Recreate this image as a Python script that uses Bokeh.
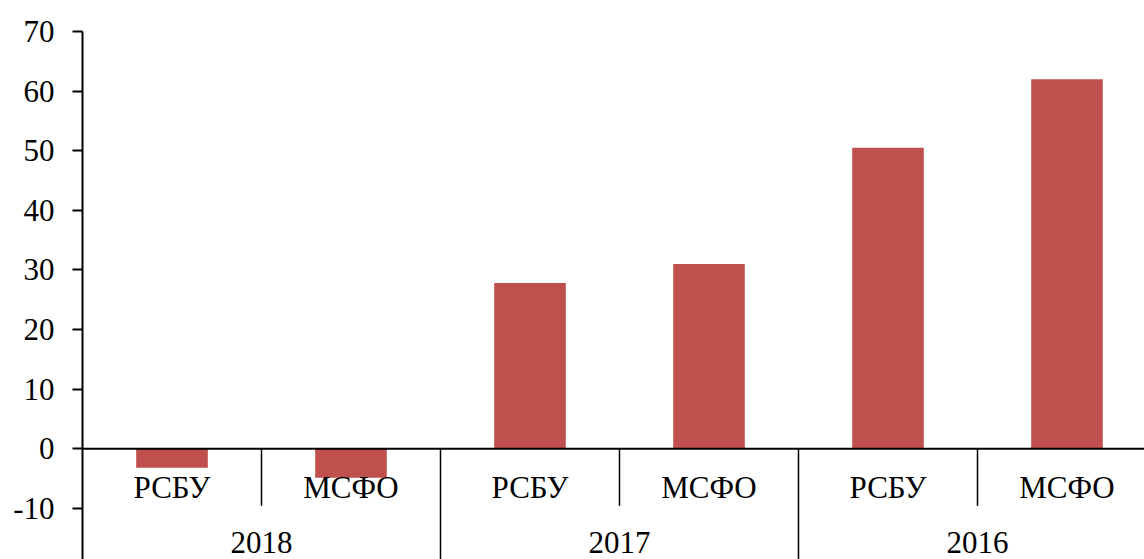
from bokeh.plotting import figure
from bokeh.models import Range1d, Span, FixedTicker, ColumnDataSource
from bokeh.core.properties import value
from bokeh.embed import file_html
from bokeh.resources import INLINE

# Net profit by reporting standard and year
years = ["2018", "2017", "2016"]
standards = ["РСБУ", "МСФО"]
values = [-3.2, -4.9, 27.8, 31.0, 50.5, 62.0]
y_ticks = [-10, 0, 10, 20, 30, 40, 50, 60, 70]

FONT = "Liberation Serif"
FSIZE = "31px"
BAR_COLOR = "#C0504D"

n = len(years) * len(standards)
slot_x = [i + 0.5 for i in range(n)]
slot_labels = [s for _ in years for s in standards]

p = figure(
    width=1144, height=559,
    output_backend="svg", toolbar_location=None,
    x_range=Range1d(0, 5.933), y_range=Range1d(-18.6, 70),
    x_axis_location=None,
    min_border_left=82, min_border_right=0,
    min_border_top=31, min_border_bottom=0,
)
p.outline_line_color = None
p.xgrid.visible = False
p.ygrid.visible = False
p.background_fill_color = "white"
p.border_fill_color = "white"

src = ColumnDataSource(dict(x=slot_x, top=values))
p.vbar(x="x", top="top", bottom=0, width=0.4, source=src,
       fill_color=BAR_COLOR, line_color=None)

# zero baseline
p.add_layout(Span(location=0, dimension="width", line_color="black", line_width=2))

# separators between standards (short) and between years (long)
short_x = [2 * g + 1 for g in range(len(years))]
long_x = [2 * g for g in range(1, len(years))]
p.segment(x0=short_x, x1=short_x, y0=[0] * len(short_x), y1=[-9.6] * len(short_x),
          line_color="black", line_width=1.5)
p.segment(x0=long_x, x1=long_x, y0=[0] * len(long_x), y1=[-20] * len(long_x),
          line_color="black", line_width=1.5)

# category labels
p.text(x=slot_x, y=[-6.45] * n, text=slot_labels,
       text_font=value(FONT), text_font_size=value(FSIZE),
       text_align="center", text_baseline="middle", text_color="black")
year_x = [2 * g + 1 for g in range(len(years))]
p.text(x=year_x, y=[-15.7] * len(years), text=years,
       text_font=value(FONT), text_font_size=value(FSIZE),
       text_align="center", text_baseline="middle", text_color="black")

ax = p.yaxis[0]
ax.ticker = FixedTicker(ticks=y_ticks)
ax.major_label_overrides = {t: str(t) for t in y_ticks}
ax.minor_tick_line_color = None
ax.major_tick_in = 0
ax.major_tick_out = 10
ax.major_tick_line_width = 2
ax.axis_line_width = 2
ax.axis_line_color = "black"
ax.major_tick_line_color = "black"
ax.major_label_standoff = 18
ax.major_label_text_font = FONT
ax.major_label_text_font_size = FSIZE
ax.major_label_text_color = "black"

open("out.html", "w").write(file_html(p, INLINE))
